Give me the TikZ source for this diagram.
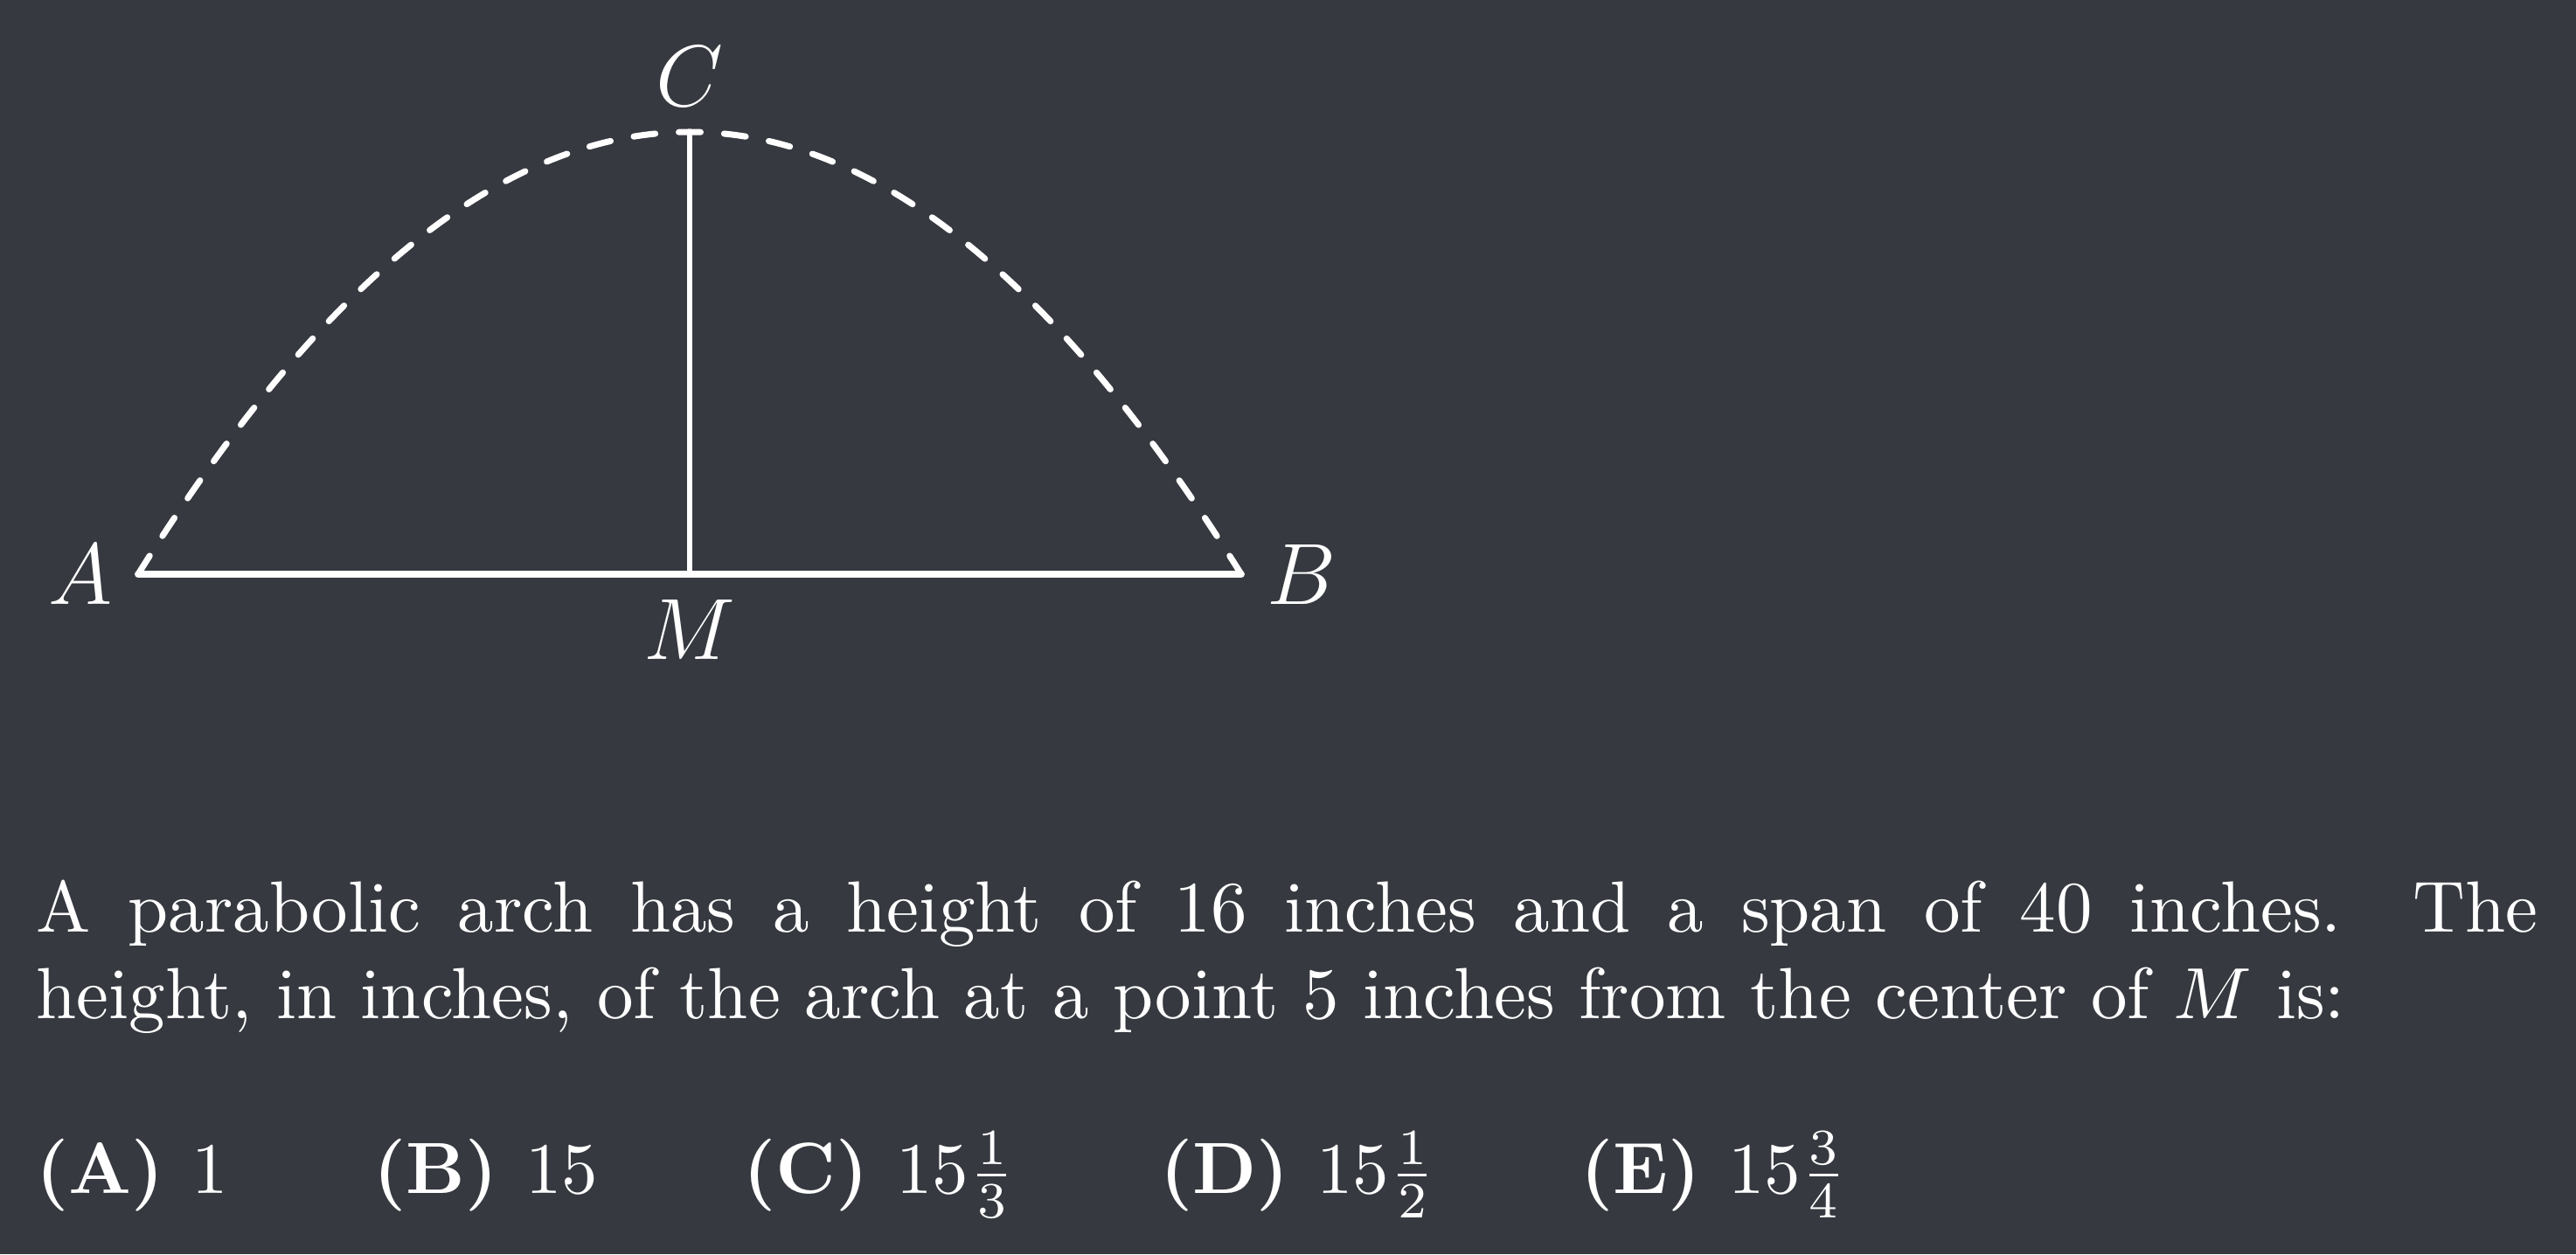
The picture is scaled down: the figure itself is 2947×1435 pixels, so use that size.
\documentclass[tikz,border=0pt]{standalone}
\usepackage{amsmath}
\definecolor{bgc}{RGB}{54,57,63}
\begin{document}
\begin{tikzpicture}[x=0.120482pt,y=-0.120482pt,
  base/.style={line width=0.93pt,white,line cap=round},
  rise/.style={line width=0.8pt,white},
  arch/.style={line width=0.85pt,white,line cap=round,dash pattern=on 3pt off 3.25pt},
  lbl/.style={text=white,font=\large,inner sep=3.33pt},
  txt/.style={text=white,inner sep=0pt,anchor=base west}]
\fill[bgc] (0,0) rectangle (2947,1435);
\useasboundingbox (0,0) rectangle (2947,1435);
\coordinate (A) at (158,657);
\coordinate (B) at (1420,657);
\coordinate (M) at (789,657);
\coordinate (C) at (789,151);
\draw[arch] (A) .. controls (578.67,-17.67) and (999.33,-17.67) .. (B);
\draw[rise] (C) -- (M);
\draw[base] (A) -- (B);
\node[lbl,anchor=east] (lA) at (A) {$A$};
\node[lbl,anchor=west] (lB) at (B) {$B$};
\node[lbl,anchor=north] (lM) at (M) {$M$};
\node[lbl,anchor=south] (lC) at (C) {$C$};
\node[txt] (l1) at (40,1066) {\makebox[344.8pt][s]{A parabolic arch has a height of 16 inches and a span of 40 inches.  The}};
\node[txt] (l2) at (40,1165) {height, in inches, of the arch at a point 5 inches from the center of $M$ is:};
\node[txt] (ans) at (40,1365) {$\textbf{(A) }1\qquad\textbf{(B) }15\qquad\textbf{(C) }15\frac{1}{3}\qquad\textbf{(D) }15\frac{1}{2}\qquad\textbf{(E) }15\frac{3}{4}$};
\end{tikzpicture}
\end{document}
